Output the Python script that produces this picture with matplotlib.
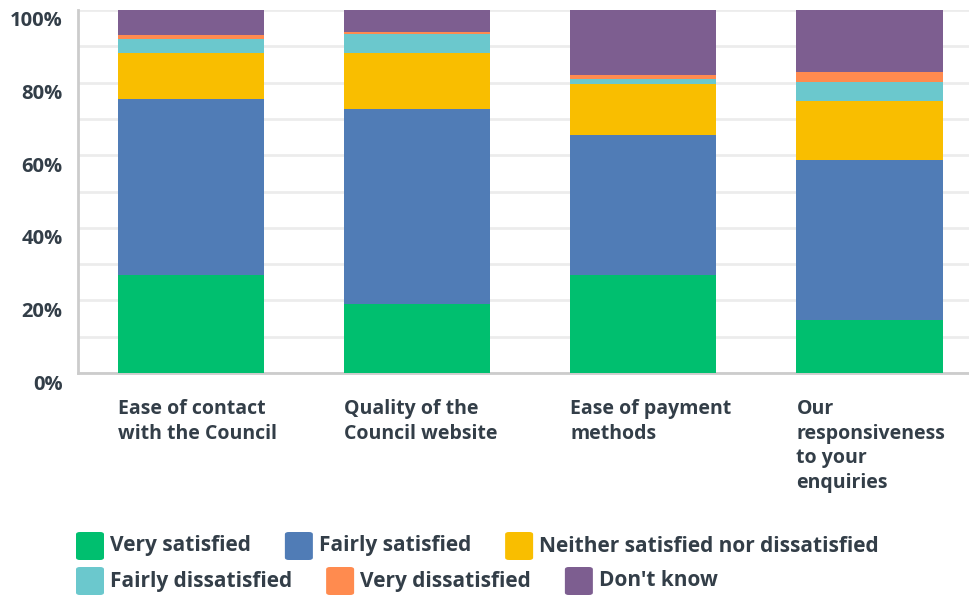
import matplotlib
matplotlib.use("Agg")
import matplotlib.pyplot as plt
import matplotlib.transforms as mtransforms
from matplotlib.patches import FancyBboxPatch
import numpy as np

# survey questions and response shares (%)
questions = ["Ease of contact\nwith the Council",
             "Quality of the\nCouncil website",
             "Ease of payment\nmethods",
             "Our\nresponsiveness\nto your\nenquiries"]
responses = ["Very satisfied", "Fairly satisfied", "Neither satisfied nor dissatisfied",
             "Fairly dissatisfied", "Very dissatisfied", "Don't know"]
very_sat = [27.0, 19.0, 27.0, 14.6]
fairly_sat = [48.5, 53.7, 38.6, 44.1]
neither = [12.7, 15.5, 14.0, 16.2]
fairly_dis = [3.7, 5.2, 1.3, 5.3]
very_dis = [1.3, 0.5, 1.2, 2.7]
dont_know = [6.8, 6.1, 17.9, 17.1]
colors = ["#00bf6f", "#507cb6", "#f9be00", "#6bc8cd", "#ff8b4f", "#7d5e90"]

TXT = "#333e48"
FONT = "Open Sans"
W, H = 969, 597

fig = plt.figure(figsize=(W / 100, H / 100), dpi=100)
ax = fig.add_axes([78 / W, 1 - 373 / H, (W - 78) / W, 363 / H])

x = np.arange(len(questions))
bw = 0.646
bottom = np.zeros(len(questions))
for vals, c in zip([very_sat, fairly_sat, neither, fairly_dis, very_dis, dont_know], colors):
    ax.bar(x, vals, bw, bottom=bottom, color=c, zorder=3)
    bottom += np.array(vals)

ax.set_xlim(-0.5, 3.44)
ax.set_ylim(0, 100)
ax.set_yticks(np.arange(0, 101, 20))
ax.set_yticks(np.arange(10, 100, 20), minor=True)
ax.set_yticklabels([f"{v}%" for v in range(0, 101, 20)])
ax.grid(axis="y", which="both", color="#ececec", linewidth=2, zorder=0)
ax.tick_params(axis="y", which="both", length=0, pad=11)
for lab in ax.get_yticklabels():
    lab.set_fontfamily(FONT)
    lab.set_fontweight("bold")
    lab.set_fontsize(14.5)
    lab.set_color(TXT)
    lab.set_transform(lab.get_transform() + mtransforms.ScaledTranslation(0, -9 / 100, fig.dpi_scale_trans))

# category labels left-aligned with each bar
ax.set_xticks(x - bw / 2)
ax.set_xticklabels(questions, ha="left", va="top", fontfamily=FONT, fontweight="bold",
                   fontsize=14, color=TXT, linespacing=1.3)
ax.tick_params(axis="x", length=0, pad=19)

for side in ["top", "right"]:
    ax.spines[side].set_visible(False)
for side in ["left", "bottom"]:
    ax.spines[side].set_color("#cccccc")
    ax.spines[side].set_linewidth(2)

# legend laid out in two rows
fig.canvas.draw()
renderer = fig.canvas.get_renderer()
rows = [responses[:3], responses[3:]]
row_y = [546, 581]
k = 0
for ry, row in zip(row_y, rows):
    px = 76
    for name in row:
        box = FancyBboxPatch(((px) / W, 1 - (ry + 14) / H), 28 / W, 28 / H,
                             boxstyle="round,pad=0,rounding_size=0.004",
                             transform=fig.transFigure, facecolor=colors[k],
                             edgecolor="none")
        fig.patches.append(box)
        t = fig.text((px + 34) / W, 1 - ry / H, name, ha="left", va="center",
                     fontfamily=FONT, fontweight="bold", fontsize=15, color=TXT)
        tw = t.get_window_extent(renderer).width
        px += 34 + tw + 34
        k += 1

fig.savefig("out.png", dpi=100)
